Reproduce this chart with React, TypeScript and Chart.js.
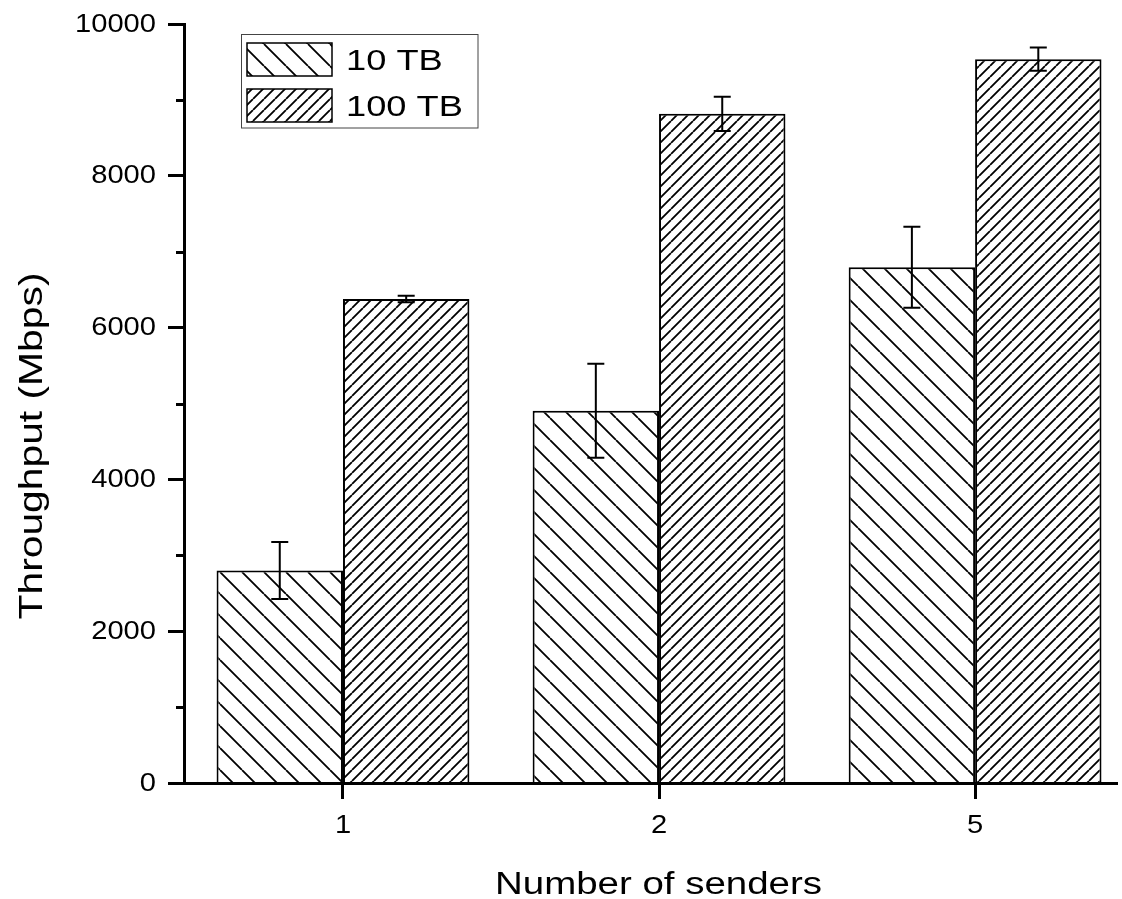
import React, { useEffect, useRef } from 'react';
import { Chart, registerables } from 'chart.js';

Chart.register(...registerables);

// ---- data ----
const categories = ['1', '2', '5'];
const legendLabels = ['10 TB', '100 TB'];
const series10TB = [2800, 4905, 6796];
const err10TB = [375, 620, 534];
const series100TB = [6377, 8816, 9537];
const err100TB = [42, 225, 153];
const yTicks = [0, 2000, 4000, 6000, 8000, 10000];
const yMinorTicks = [1000, 3000, 5000, 7000, 9000];
const xTitle = 'Number of senders';
const yTitle = 'Throughput (Mbps)';

const FONT = '"Liberation Sans", Arial, sans-serif';

function drawText(
  ctx: CanvasRenderingContext2D,
  text: string,
  x: number,
  y: number,
  size: number,
  sx: number,
  align: CanvasTextAlign,
  rotate = 0
) {
  ctx.save();
  ctx.translate(x, y);
  if (rotate) ctx.rotate(rotate);
  ctx.scale(sx, 1);
  ctx.font = `${size}px ${FONT}`;
  ctx.textAlign = align;
  ctx.textBaseline = 'alphabetic';
  ctx.fillStyle = '#000';
  ctx.fillText(text, 0, 0);
  ctx.restore();
}

function makeHatch(
  ctx: CanvasRenderingContext2D,
  size: number,
  dir: 'back' | 'fwd',
  lw: number
) {
  const c = document.createElement('canvas');
  c.width = size;
  c.height = size;
  const g = c.getContext('2d')!;
  g.fillStyle = '#fff';
  g.fillRect(0, 0, size, size);
  g.strokeStyle = '#000';
  g.lineWidth = lw;
  g.beginPath();
  for (let k = -1; k <= 1; k++) {
    if (dir === 'back') {
      g.moveTo(k * size, 0);
      g.lineTo(k * size + size, size);
    } else {
      g.moveTo(k * size, size);
      g.lineTo(k * size + size, 0);
    }
  }
  g.stroke();
  return ctx.createPattern(c, 'repeat')!;
}

export default function App() {
  const ref = useRef<HTMLCanvasElement | null>(null);

  useEffect(() => {
    document.body.style.margin = '0';
    const canvas = ref.current!;
    const ctx = canvas.getContext('2d')!;
    const pat10 = makeHatch(ctx, 22, 'back', 1.8);
    const pat100 = makeHatch(ctx, 11, 'fwd', 1.8);
    const patterns = [pat10, pat100];
    const errs = [err10TB, err100TB];
    const vals = [series10TB, series100TB];

    const custom = {
      id: 'custom',
      afterDatasetsDraw(chart: any) {
        const c = chart.ctx as CanvasRenderingContext2D;
        const y = chart.scales.y;
        c.save();
        c.strokeStyle = '#000';
        c.lineWidth = 2;
        for (let d = 0; d < 2; d++) {
          const meta = chart.getDatasetMeta(d);
          meta.data.forEach((bar: any, i: number) => {
            const x = bar.x;
            const yt = y.getPixelForValue(vals[d][i] + errs[d][i]);
            const yb = y.getPixelForValue(vals[d][i] - errs[d][i]);
            c.beginPath();
            c.moveTo(x, yt);
            c.lineTo(x, yb);
            c.moveTo(x - 8.5, yt);
            c.lineTo(x + 8.5, yt);
            c.moveTo(x - 8.5, yb);
            c.lineTo(x + 8.5, yb);
            c.stroke();
          });
        }
        c.restore();
      },
      afterDraw(chart: any) {
        const c = chart.ctx as CanvasRenderingContext2D;
        const xs = chart.scales.x;
        const ys = chart.scales.y;
        const area = chart.chartArea;
        // minor ticks
        c.save();
        c.strokeStyle = '#000';
        c.lineWidth = 3;
        c.beginPath();
        yMinorTicks.forEach((v) => {
          const p = Math.round(ys.getPixelForValue(v)) + 0.5;
          c.moveTo(area.left, p);
          c.lineTo(area.left - 8, p);
        });
        c.stroke();
        c.restore();
        // y tick labels
        yTicks.forEach((v) => {
          const p = ys.getPixelForValue(v);
          drawText(c, String(v), 156, p + 7.5, 26, 1.12, 'right');
        });
        // x tick labels
        categories.forEach((lab, i) => {
          const p = xs.getPixelForValue(i + 1);
          drawText(c, lab, p, 833, 26, 1.12, 'center');
        });
        // axis titles
        drawText(c, xTitle, (area.left + area.right) / 2 + 8, 894, 31, 1.24, 'center');
        drawText(c, yTitle, 42, 446, 34, 1.2, 'center', -Math.PI / 2);
        // legend
        c.save();
        c.strokeStyle = '#444';
        c.lineWidth = 1;
        c.strokeRect(241.5, 34.5, 236.5, 93.5);
        const sw = [
          [247, 43],
          [247, 89],
        ];
        sw.forEach(([sx, sy], i) => {
          c.fillStyle = patterns[i];
          c.fillRect(sx, sy, 85, 33);
          c.strokeStyle = '#000';
          c.lineWidth = 1.5;
          c.strokeRect(sx, sy, 85, 33);
          drawText(c, legendLabels[i], 346, sy + 26.5, 29, 1.25, 'left');
        });
        c.restore();
      },
    };

    const chart = new Chart(canvas, {
      type: 'bar',
      data: {
        datasets: [0, 1].map((d) => ({
          label: legendLabels[d],
          data: categories.map((_, i) => ({ x: i + 1, y: vals[d][i] })),
          backgroundColor: patterns[d],
          borderColor: '#000',
          borderWidth: 2,
          borderSkipped: 'start',
          categoryPercentage: 0.8,
          barPercentage: 1,
        })),
      } as any,
      options: {
        responsive: false,
        animation: false,
        events: [],
        layout: { padding: { left: 0, right: 5, top: 24, bottom: 0 } },
        plugins: {
          legend: { display: false },
          tooltip: { enabled: false },
        },
        scales: {
          x: {
            type: 'linear',
            min: 0.497,
            max: 3.449,
            offset: false,
            afterBuildTicks: (s: any) => {
              s.ticks = categories.map((_, i) => ({ value: i + 1 }));
            },
            afterFit: (s: any) => {
              s.height = 116;
            },
            grid: {
              display: true,
              offset: false,
              drawOnChartArea: false,
              drawTicks: true,
              tickLength: 16,
              tickWidth: 3,
              tickColor: '#000',
            },
            border: { display: true, color: '#000', width: 3, z: 1 },
            ticks: { display: false },
          },
          y: {
            type: 'linear',
            min: 0,
            max: 10000,
            afterBuildTicks: (s: any) => {
              s.ticks = yTicks.map((v) => ({ value: v }));
            },
            afterFit: (s: any) => {
              s.width = 184;
            },
            grid: {
              display: true,
              drawOnChartArea: false,
              drawTicks: true,
              tickLength: 16,
              tickWidth: 3,
              tickColor: '#000',
            },
            border: { display: true, color: '#000', width: 3, z: 1 },
            ticks: { display: false },
          },
        },
      } as any,
      plugins: [custom],
    });
    return () => chart.destroy();
  }, []);

  return (
    <canvas
      ref={ref}
      width={1122}
      height={899}
      style={{ display: 'block', width: 1122, height: 899 }}
    />
  );
}
